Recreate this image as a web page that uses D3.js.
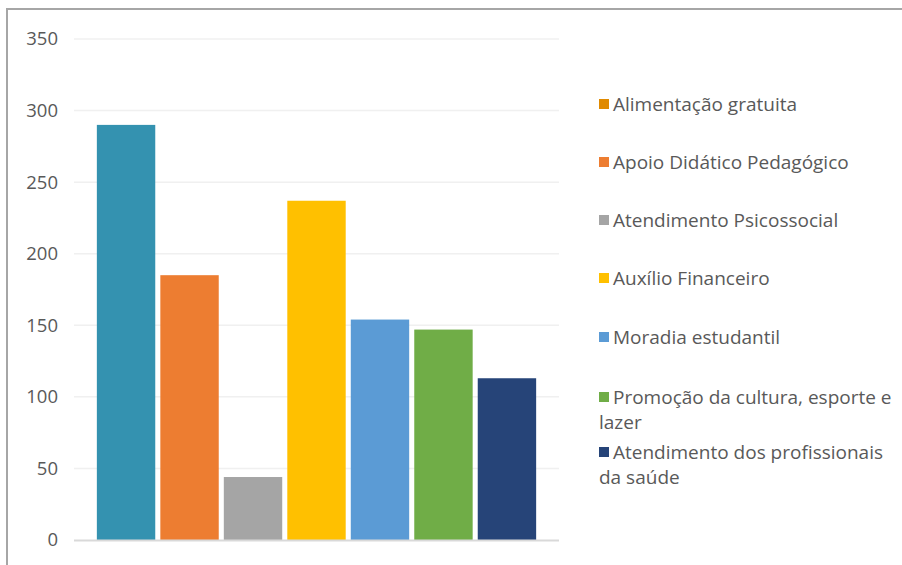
<!DOCTYPE html>
<html>
<head>
<meta charset="utf-8">
<script src="https://cdn.jsdelivr.net/npm/d3@7"></script>
<style>
  html, body { margin: 0; padding: 0; background: #fff; }
  svg { display: block; }
  text { font-family: "Open Sans", "Noto Sans", sans-serif; fill: #595959; }
</style>
</head>
<body>
<svg id="chart" width="902" height="565"></svg>
<script>
// Number of students served per type of assistance
const categories = [
  "Alimentação gratuita",
  "Apoio Didático Pedagógico",
  "Atendimento Psicossocial",
  "Auxílio Financeiro",
  "Moradia estudantil",
  "Promoção da cultura, esporte e lazer",
  "Atendimento dos profissionais da saúde"
];
const values = [290, 185, 44, 237, 154, 147, 113];
const barColors = ["#3492B0", "#ED7D31", "#A5A5A5", "#FFC000", "#5B9BD5", "#70AD47", "#264478"];
const legendColors = ["#E08A00", "#ED7D31", "#A5A5A5", "#FFC000", "#5B9BD5", "#70AD47", "#264478"];
const legendLines = [
  ["Alimentação gratuita"],
  ["Apoio Didático Pedagógico"],
  ["Atendimento Psicossocial"],
  ["Auxílio Financeiro"],
  ["Moradia estudantil"],
  ["Promoção da cultura, esporte e", "lazer"],
  ["Atendimento dos profissionais", "da saúde"]
];
const yTicks = [0, 50, 100, 150, 200, 250, 300, 350];

const svg = d3.select("#chart");

// chart frame (top and left edges visible)
svg.append("path")
  .attr("d", "M7,565V9H902")
  .attr("fill", "none")
  .attr("stroke", "#A6A6A6")
  .attr("stroke-width", 2);

const plot = { left: 74, right: 559, top: 39, bottom: 540 };

const x = d3.scaleBand()
  .domain(categories)
  .range([plot.left, plot.right])
  .paddingInner(0.08)
  .paddingOuter(0.36);

const y = d3.scaleLinear()
  .domain([0, 350])
  .range([plot.bottom, plot.top]);

// gridlines
svg.append("g")
  .selectAll("line")
  .data(yTicks.filter(d => d > 0))
  .join("line")
  .attr("x1", plot.left)
  .attr("x2", plot.right)
  .attr("y1", d => y(d))
  .attr("y2", d => y(d))
  .attr("stroke", "#F0F0F0")
  .attr("stroke-width", 1.5);

// y axis labels
const yAxis = d3.axisLeft(y).tickValues(yTicks).tickSize(0).tickPadding(0);
const yg = svg.append("g")
  .attr("transform", `translate(58,0)`)
  .call(yAxis);
yg.select(".domain").remove();
yg.selectAll("text")
  .attr("font-size", 18.5)
  .attr("font-family", "\"Open Sans\", sans-serif")
  .attr("fill", "#595959");

// bars
svg.append("g")
  .selectAll("rect")
  .data(values)
  .join("rect")
  .attr("x", (d, i) => x(categories[i]))
  .attr("width", x.bandwidth())
  .attr("y", d => y(d))
  .attr("height", d => y(0) - y(d))
  .attr("fill", (d, i) => barColors[i]);

// baseline
svg.append("line")
  .attr("x1", plot.left)
  .attr("x2", plot.right)
  .attr("y1", y(0) + 0.5)
  .attr("y2", y(0) + 0.5)
  .attr("stroke", "#D9D9D9")
  .attr("stroke-width", 2);

// legend
const legendRowY = [104, 162, 220, 278, 337, 397, 452];
const legend = svg.append("g");
legendLines.forEach((lines, i) => {
  const g = legend.append("g").attr("transform", `translate(599,${legendRowY[i]})`);
  g.append("rect")
    .attr("x", 0)
    .attr("y", -5)
    .attr("width", 10)
    .attr("height", 10)
    .attr("fill", legendColors[i]);
  const t = g.append("text")
    .attr("x", 14)
    .attr("y", 0)
    .attr("font-size", 19);
  lines.forEach((line, j) => {
    t.append("tspan")
      .attr("x", j === 0 ? 14 : 0)
      .attr("dy", j === 0 ? "0.35em" : 25)
      .text(line);
  });
});
</script>
</body>
</html>
